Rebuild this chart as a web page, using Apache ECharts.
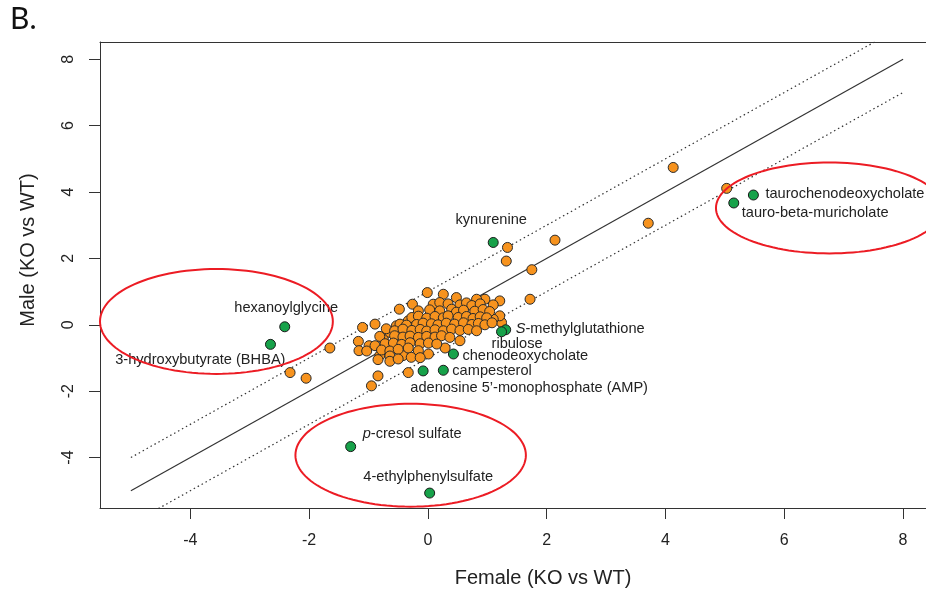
<!DOCTYPE html>
<html>
<head>
<meta charset="utf-8">
<script src="https://cdn.jsdelivr.net/npm/echarts@6/dist/echarts.min.js"></script>
<style>html,body{margin:0;padding:0;background:#fff}#c{width:926px;height:596px}</style>
</head>
<body>
<div id="c"></div>
<script>
// ---- data (log2 fold change KO vs WT) ----
const orangePoints = [
  [-2.32,-1.44],[-2.05,-1.61],[-1.65,-0.70],[-1.17,-0.50],[-1.16,-0.78],[-1.10,-0.08],[-0.89,0.02],
  [-0.99,-0.63],[-0.89,-0.63],[-0.84,-1.54],[-0.95,-1.84],[-0.33,-1.44],[-0.48,0.47],[-0.26,0.62],
  [-0.01,0.97],[0.26,0.92],[0.96,0.77],[1.21,0.72],[1.72,0.77],[1.75,1.66],[1.32,1.92],[1.34,2.33],
  [2.14,2.55],[3.71,3.06],[4.13,4.74],[5.03,4.11],[1.24,0.07],[1.21,0.27],[1.10,0.17],[0.01,-0.88],
  [0.29,-0.70],[0.54,-0.48],[-0.75,-0.43],[-0.64,-0.23],[-0.53,-0.03],[-0.33,0.12],[-0.16,0.42],
  [0.09,0.62],[0.20,0.67],[-0.81,-0.93],[-0.42,-0.93],
  [0.48,0.82],[0.82,0.77],
  [0.34,0.63],[0.54,0.60],[0.65,0.66],[0.74,0.58],[0.88,0.63],[1.10,0.60],
  [0.03,0.45],[0.20,0.42],[0.40,0.47],[0.48,0.38],[0.60,0.44],[0.79,0.41],[0.93,0.46],[1.04,0.40],
  [-0.27,0.22],[-0.16,0.26],[-0.02,0.20],[0.12,0.25],[0.26,0.21],[0.34,0.27],[0.51,0.22],[0.65,0.25],
  [0.76,0.19],[0.88,0.24],[0.99,0.21],
  [-0.47,0.02],[-0.36,-0.01],[-0.19,0.01],[-0.08,0.05],[0.06,0.03],[0.17,0.00],[0.31,0.05],[0.45,0.02],
  [0.60,0.06],[0.74,0.01],[0.85,0.04],[0.96,0.00],[1.08,0.06],
  [-0.70,-0.12],[-0.56,-0.18],[-0.42,-0.13],[-0.27,-0.17],[-0.13,-0.14],[-0.02,-0.19],[0.12,-0.15],
  [0.26,-0.18],[0.40,-0.13],[0.54,-0.17],[0.68,-0.14],[0.82,-0.18],
  [-0.81,-0.35],[-0.56,-0.33],[-0.42,-0.37],[-0.30,-0.34],[-0.16,-0.38],[-0.02,-0.35],[0.12,-0.37],
  [0.23,-0.33],[0.37,-0.38],
  [-0.72,-0.57],[-0.58,-0.55],[-0.44,-0.59],[-0.30,-0.54],[-0.13,-0.57],[0.01,-0.55],[0.15,-0.58],
  [-1.03,-0.79],[-0.78,-0.76],[-0.64,-0.79],[-0.50,-0.74],[-0.33,-0.70],[-0.16,-0.78],
  [-0.64,-0.94],[-0.28,-0.98],[-0.13,-0.99],
  [-0.84,-1.05],[-0.64,-1.10],[-0.50,-1.03]
];
const greenNames = ['kynurenine','hexanoylglycine','3-hydroxybutyrate (BHBA)','S-methylglutathione','ribulose',
  'chenodeoxycholate','campesterol','adenosine 5\u2019-monophosphate (AMP)','taurochenodeoxycholate',
  'tauro-beta-muricholate','p-cresol sulfate','4-ethylphenylsulfate'];
const greenX = [1.10,-2.41,-2.65,1.31,1.24,0.43,0.26,-0.08,5.48,5.15,-1.30,0.03];
const greenY = [2.48,-0.06,-0.59,-0.15,-0.21,-0.88,-1.37,-1.39,3.91,3.67,-3.67,-5.07];
const xTicks = [-4,-2,0,2,4,6,8];
const yTicks = [-4,-2,0,2,4,6,8];
// reference lines: identity and +/-1
const refSolid = [[-5,-5],[8,8]];
const refUpper = [[-5,-4],[8,9]];
const refLower = [[-5,-6],[8,7]];
// highlighted regions (center x, center y, radius x, radius y in data units)
const ellipses = [[-3.56,0.10,1.96,1.58],[6.76,3.52,1.91,1.37],[-0.29,-3.93,1.94,1.55]];

// ---- label placement (styling) ----
const labelAlign = ['center','center','right','left','left','left','left','center','left','left','left','center'];
const labelOffset = [[-2,-23],[1.5,-19],[15,15.5],[10,-1],[-10,12],[9,2],[9,1],[106,17],[12,-1],[8,10],[12,-13],[-1.5,-16]];

const FONT = 'Liberation Sans, Arial, sans-serif';
const LBL = 14.6;
const chart = echarts.init(document.getElementById('c'), null, {renderer:'canvas'});

const greenData = greenNames.map((n,i)=>({
  name:n, value:[greenX[i],greenY[i]],
  label:{align:labelAlign[i], verticalAlign:'middle', offset:labelOffset[i]}
}));

const XMIN=-5.52, XMAX=8.386, YMIN=-5.52, YMAX=8.52;
const axisCommon = (ticks,min,max)=>({
  type:'value', min:min, max:max,
  splitLine:{show:false},
  axisLine:{show:true,onZero:false,lineStyle:{color:'#333',width:1}},
  axisTick:{show:true,length:11,customValues:ticks,lineStyle:{color:'#333',width:1}},
  axisLabel:{customValues:ticks,color:'#222',fontSize:16,fontFamily:FONT}
});

const xAx = axisCommon(xTicks,XMIN,XMAX); xAx.axisLabel.margin = 25;
const xTop = {type:'value',min:XMIN,max:XMAX,position:'top',splitLine:{show:false},
  axisLine:{show:true,onZero:false,lineStyle:{color:'#333',width:1}},axisTick:{show:false},axisLabel:{show:false}};
const yAx = axisCommon(yTicks,YMIN,YMAX); yAx.axisLabel.margin = 23; yAx.axisLabel.rotate = 90;

chart.setOption({
  animation:false,
  backgroundColor:'#fff',
  grid:{left:100,top:42,right:0,bottom:88,show:false},
  xAxis:[xAx,xTop],
  yAxis:yAx,
  graphic:[
    {type:'text',left:10,top:4,style:{text:'B.',fontSize:30,fontFamily:'Lato, Liberation Sans, sans-serif',fill:'#111'}},
    {type:'text',x:543,y:578,style:{text:'Female (KO vs WT)',fontSize:20,fontFamily:FONT,fill:'#222',
      textAlign:'center',textVerticalAlign:'middle',align:'center',verticalAlign:'middle'}},
    {type:'text',x:28,y:250,rotation:Math.PI/2,style:{text:'Male (KO vs WT)',fontSize:20,fontFamily:FONT,fill:'#222',
      textAlign:'center',textVerticalAlign:'middle',align:'center',verticalAlign:'middle'}}
  ],
  series:[
    {type:'line',data:refSolid,symbol:'none',clip:true,lineStyle:{color:'#333',width:1.2},z:1,silent:true},
    {type:'line',data:refUpper,symbol:'none',clip:true,lineStyle:{color:'#333',width:1.2,type:[1.5,3]},z:1,silent:true},
    {type:'line',data:refLower,symbol:'none',clip:true,lineStyle:{color:'#333',width:1.2,type:[1.5,3]},z:1,silent:true},
    {type:'scatter',data:orangePoints,symbol:'circle',symbolSize:10,
      itemStyle:{color:'#f7931e',borderColor:'#2a2a2a',borderWidth:1,opacity:1},z:2},
    {type:'scatter',data:greenData,symbol:'circle',symbolSize:10,
      itemStyle:{color:'#17a24a',borderColor:'#1a1a1a',borderWidth:1,opacity:1},z:3,
      label:{show:true,position:'inside',color:'#222',fontSize:LBL,fontFamily:FONT,
        formatter:(p)=>/^(S|p)-/.test(p.name)?'{i|'+p.name[0]+'}'+p.name.slice(1):p.name,
        rich:{i:{fontStyle:'italic',fontSize:LBL,fontFamily:FONT,color:'#222'}}}},
    {type:'custom',data:ellipses,z:4,silent:true,
      encode:{x:0,y:1},
      renderItem:(params,api)=>{
        const cx=api.value(0),cy=api.value(1),rx=api.value(2),ry=api.value(3);
        const pts=[];
        for(let k=0;k<120;k++){const t=2*Math.PI*k/120;pts.push(api.coord([cx+rx*Math.cos(t),cy+ry*Math.sin(t)]));}
        return {type:'polygon',shape:{points:pts},style:{fill:'none',stroke:'#ec1c24',lineWidth:2}};
      }}
  ]
});
</script>
</body>
</html>
